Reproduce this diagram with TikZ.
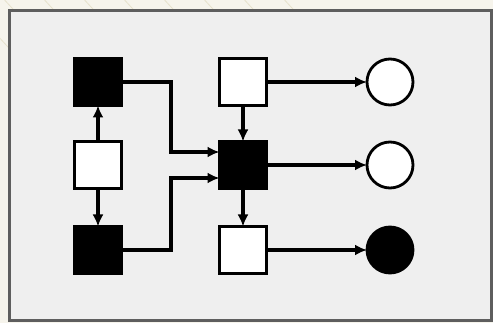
\documentclass[tikz,border=0pt]{standalone}
\usetikzlibrary{arrows.meta}
\definecolor{outbg}{HTML}{F6F4EC}
\definecolor{inbg}{HTML}{EFEFEF}
\definecolor{framec}{HTML}{5E5E5E}
\definecolor{hatch}{HTML}{E6E1CC}
\begin{document}
\begin{tikzpicture}[x=1pt,y=-1pt,
  sq/.style={draw=black,line width=3pt,minimum size=47pt,inner sep=0pt,outer sep=0pt},
  blk/.style={sq,fill=black},
  wht/.style={sq,fill=white},
  circ/.style={circle,draw=black,line width=2.8pt,minimum size=46pt,inner sep=0pt,outer sep=0pt},
  conn/.style={line width=3.2pt,-{Latex[length=12pt,width=11pt]}}]
\useasboundingbox (0,0) rectangle (493,323);
\fill[outbg] (0,0) rectangle (493,323);
\foreach \a in {-40,0,40,80,120,160,200,240,280}
  \draw[hatch,line width=0.8pt] (\a,-5) -- (\a+60,60);
\fill[inbg,draw=framec,line width=3pt] (9,11) rectangle (491,321);
% nodes
\node[blk] (lt) at (98,82) {};
\node[wht] (lm) at (98,165) {};
\node[blk] (lb) at (98,250) {};
\node[wht] (mt) at (243,82) {};
\node[blk] (mm) at (243,165) {};
\node[wht] (mb) at (243,250) {};
\node[circ,fill=white] (c1) at (390,82) {};
\node[circ,fill=white] (c2) at (390,165) {};
\node[circ,fill=black] (c3) at (390,250) {};
% connectors
\draw[conn] (lm) -- (lt);
\draw[conn] (lm) -- (lb);
\draw[conn] (lt.east) -| (171,152) -- (mm.west |- 0,152);
\draw[conn] (lb.east) -| (171,178) -- (mm.west |- 0,178);
\draw[conn] (mt) -- (mm);
\draw[conn] (mm) -- (mb);
\draw[conn] (mt) -- (c1);
\draw[conn] (mm) -- (c2);
\draw[conn] (mb) -- (c3);
\end{tikzpicture}
\end{document}
